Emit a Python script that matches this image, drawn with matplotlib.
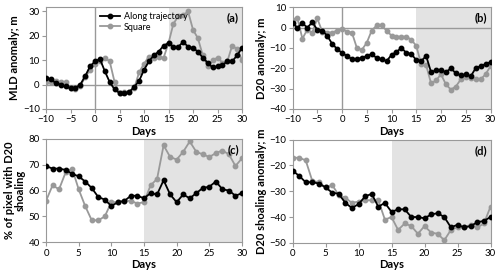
import matplotlib.pyplot as plt
import numpy as np

plt.rcParams['font.family'] = ['Lato', 'DejaVu Sans']

days_ab = np.arange(-10, 31)
days_cd = np.arange(0, 31)

mld_along = [2.5, 2.3, 0.5, 0, -0.8, -1.5, -1.5, 0, 3.5, 7.5, 9.5, 10.5, 5.5, 1, -2, -3.5, -3.5, -3, -1, 1.5,
             6, 9.5, 12, 13.5, 16, 17, 15.5, 15.5, 17.5, 15.5, 15, 13.5, 11, 9, 7, 7.5, 8, 9.5, 9.5, 12, 15]
mld_square = [1, 1, 1.5, 1, 1, -1.5, -2, -0.5, 3, 6, 8.5, 9.5, 11, 9.5, 1, -3.5, -3, -3, -1.5, 5,
              8.5, 11.5, 11, 11.5, 11, 17, 25, 28, 28.5, 30, 22.5, 19, 12, 7.5, 10, 11, 9, 9.5, 16, 14.5, 10]

d20_along = [2, 0, 2, 0, 2.5, -1, -1.5, -4, -8, -10.5, -12.5, -14, -15.5, -15.5, -15, -14, -13, -15, -15.5, -16.5,
             -13.5, -12, -10, -12.5, -13, -16, -16.5, -14, -22, -21, -21, -22, -20, -22.5, -23.5, -23, -24, -20, -19, -18, -17]
d20_square = [3.5, 4.5, -5.5, -1, -2.5, 4.5, -2, -2.5, -2.5, -1.5, -0.5, -2, -2.5, -10, -11, -7.5, -1.5, 1, 1, -1.5,
              -4, -4.5, -4.5, -4.5, -6, -9, -18, -18.5, -27.5, -26, -23, -28, -30.5, -29, -25.5, -24.5, -25, -25.5, -25.5, -23, -19]

pct_along = [69.5, 68.5, 68.5, 68, 66.5, 65.5, 63.5, 61, 57.5, 56.5, 54, 55.5, 56, 58, 58, 57, 59, 58.5, 64, 58.5,
             55.5, 58.5, 57, 59, 61, 61.5, 63.5, 60.5, 60, 58, 59]
pct_square = [56, 62, 60.5, 67, 68.5, 60.5, 54, 48.5, 48.5, 50, 55.5, 55.5, 56, 56, 55, 55.5, 62, 64.5, 77.5, 73,
              72, 75, 79, 75, 74, 73, 74.5, 75.5, 74, 69.5, 72.5]

shoal_along = [-22, -24, -26.5, -26.5, -27, -28.5, -30.5, -31, -34.5, -36.5, -35, -32, -31, -36, -34.5, -38, -37, -37,
               -40, -40, -40.5, -39, -38.5, -40, -44, -43, -44, -43.5, -42, -41.5, -40]
shoal_square = [-17, -17, -18, -26, -26.5, -28.5, -27.5, -31.5, -32.5, -34.5, -34, -33.5, -33.5, -33.5, -41, -40, -45,
                -42.5, -43.5, -46.5, -43.5, -46, -46.5, -49, -45, -44, -44, -43, -44, -42.5, -36]

fig = plt.figure(figsize=(5, 2.75), dpi=100)

panels = [
    ([0.092, 0.604, 0.392, 0.372], days_ab, mld_along, mld_square, (-10, 32), np.arange(-10, 31, 10), 'MLD anomaly; m', '(a)', True),
    ([0.585, 0.604, 0.396, 0.370], days_ab, d20_along, d20_square, (-40, 10), np.arange(-40, 11, 10), 'D20 anomaly; m', '(b)', True),
    ([0.092, 0.119, 0.392, 0.376], days_cd, pct_along, pct_square, (40, 80), np.arange(40, 81, 10), '% of pixel with D20\nshoaling', '(c)', False),
    ([0.585, 0.117, 0.396, 0.375], days_cd, shoal_along, shoal_square, (-50, -10), np.arange(-50, -9, 10), 'D20 shoaling anomaly; m', '(d)', False),
]

grey = '#999999'
for rect, x, a, s, ylim, yticks, ylab, tag, zero in panels:
    ax = fig.add_axes(rect)
    ax.axvspan(15, 30, color='#e3e3e3', lw=0, zorder=0)
    if zero:
        ax.axhline(0, color=grey, lw=1, zorder=1)
        ax.axvline(0, color=grey, lw=1, zorder=1)
    ax.plot(x, s, color=grey, lw=1.3, marker='o', ms=3.2, label='Square', zorder=3)
    ax.plot(x, a, color='black', lw=1.3, marker='o', ms=3.2, label='Along trajectory', zorder=4)
    ax.set_xlim(x[0], 30)
    ax.set_ylim(*ylim)
    ax.set_yticks(yticks)
    ax.set_xticks(np.arange(x[0], 31, 5))
    for sp in ax.spines.values():
        sp.set_color(grey)
    ax.tick_params(labelsize=7, length=3, color=grey, pad=1.5)
    ax.set_xlabel('Days', fontsize=8, fontweight='bold', labelpad=1)
    ax.set_ylabel(ylab, fontsize=8, fontweight='bold', labelpad=2, linespacing=1.0)
    ax.text(0.985, 0.95, tag, transform=ax.transAxes, ha='right', va='top', fontsize=8, fontweight='bold')
    if tag == '(a)':
        h, l = ax.get_legend_handles_labels()
        ax.legend(h[::-1], l[::-1], loc='upper left', bbox_to_anchor=(0.24, 1.02), frameon=False,
                  fontsize=6.5, handlelength=2.2, handletextpad=0.4, labelspacing=0.2, borderpad=0.3)

fig.savefig('out.png', dpi=100)
